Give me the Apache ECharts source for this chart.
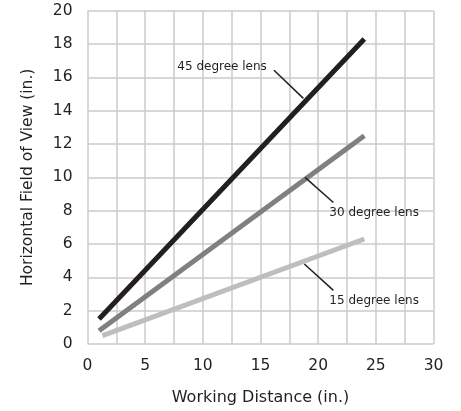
<!DOCTYPE html>
<html><head><meta charset="utf-8">
<script src="https://cdn.jsdelivr.net/npm/echarts@6/dist/echarts.min.js"></script>
<style>html,body{margin:0;padding:0;background:#fff}#c{width:461px;height:411px}</style>
</head><body><div id="c"></div>
<script>
const lens45 = [[1, 1.5], [24, 18.3]];
const lens30 = [[1, 0.8], [24, 12.5]];
const lens15 = [[1.3, 0.5], [24, 6.3]];
const seriesNames = ['45 degree lens', '30 degree lens', '15 degree lens'];
const leader45 = [[16.17, 16.43], [18.72, 14.74]];
const leader30 = [[18.86, 10.0], [21.32, 8.49]];
const leader15 = [[18.8, 4.8], [21.32, 3.22]];
const label45 = [15.55, 16.6];
const label30 = [20.97, 7.88];
const label15 = [20.97, 2.58];

const font = 'DejaVu Sans';
function leader(pts){
  return {silent:true, symbol:['none','none'], animation:false,
    lineStyle:{color:'#231f20', width:1.5, type:'solid'}, label:{show:false},
    data:[[{coord:pts[0]},{coord:pts[1]}]]};
}
function lbl(name, pt, align){
  return {silent:true, symbol:'circle', symbolSize:1, animation:false,
    itemStyle:{color:'rgba(0,0,0,0)'},
    data:[{coord:pt, value:name}],
    label:{show:true, formatter:name, position:'inside', align:align, verticalAlign:'middle',
      color:'#231f20', fontFamily:font, fontSize:12}};
}
const chart = echarts.init(document.getElementById('c'));
chart.setOption({
  animation:false,
  grid:{left:87.5, right:27.5, top:10.7, bottom:64.3},
  xAxis:{type:'value', min:0, max:30, interval:2.5,
    name:'Working Distance (in.)', nameLocation:'middle', nameGap:46,
    nameTextStyle:{fontFamily:font, fontSize:16, color:'#231f20'},
    axisLine:{show:false}, axisTick:{show:false},
    axisLabel:{fontFamily:font, fontSize:15.5, color:'#231f20', margin:14,
      formatter:v=> (v%5===0? String(v):'')},
    splitLine:{show:true, lineStyle:{color:'#cbcbcb', width:1.5}}},
  yAxis:{type:'value', min:0, max:20, interval:2,
    name:'Horizontal Field of View (in.)', nameLocation:'middle', nameGap:52,
    nameTextStyle:{fontFamily:font, fontSize:15.5, color:'#231f20'},
    axisLine:{show:false}, axisTick:{show:false},
    axisLabel:{fontFamily:font, fontSize:15.5, color:'#231f20', margin:15},
    splitLine:{show:true, lineStyle:{color:'#cbcbcb', width:1.5}}},
  series:[
    {name:seriesNames[0], type:'line', data:lens45, symbol:'none',
      lineStyle:{color:'#231f20', width:5}, markLine:leader(leader45),
      markPoint:lbl(seriesNames[0], label45, 'right')},
    {name:seriesNames[1], type:'line', data:lens30, symbol:'none',
      lineStyle:{color:'#808080', width:5}, markLine:leader(leader30),
      markPoint:lbl(seriesNames[1], label30, 'left')},
    {name:seriesNames[2], type:'line', data:lens15, symbol:'none',
      lineStyle:{color:'#bcbec0', width:5}, markLine:leader(leader15),
      markPoint:lbl(seriesNames[2], label15, 'left')}
  ]
});
</script></body></html>
